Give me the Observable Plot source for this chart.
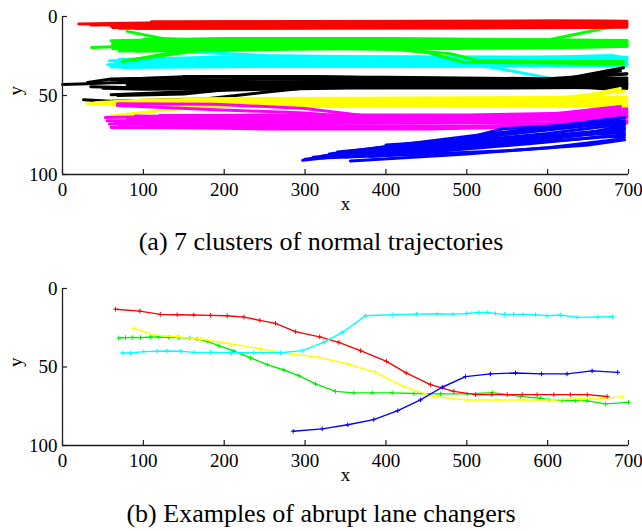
<!DOCTYPE html>
<html><head><meta charset="utf-8">
<script src="https://cdn.jsdelivr.net/npm/d3@7"></script>
<script src="https://cdn.jsdelivr.net/npm/@observablehq/plot@0.6"></script>
<style>
body{margin:0;background:#fff;}
#wrap{position:relative;width:642px;height:531px;font-family:"Liberation Serif","Times New Roman",serif;}
.cap{position:absolute;left:0;width:642px;text-align:center;font-size:26px;line-height:26px;color:#000;white-space:nowrap;}
#p1{position:absolute;left:0;top:0;}
#p2{position:absolute;left:0;top:270px;}
</style></head><body>
<div id="wrap">
  <div id="p1"></div>
  <div class="cap" style="top:229px">(a) 7 clusters of normal trajectories</div>
  <div id="p2"></div>
  <div class="cap" style="top:501px">(b) Examples of abrupt lane changers</div>
</div>
<script>
// ---------- tick labels ----------
const xTicks = [0, 100, 200, 300, 400, 500, 600, 700];
const yTicks = [0, 50, 100];

// ---------- (a) clusters: each trajectory is [x0,y0, x1,y1, ...] ----------
const redTraj = [
  [20,4.8, 62,4.4, 200,3.4, 400,3.2, 600,2.9, 698,3.2],
  [35,5.4, 70,5.2, 200,4.4, 400,4.1, 600,3.8, 698,4.0],
  [60,6.2, 200,5.4, 400,5.0, 600,4.7, 698,4.8],
  [62,7.0, 200,6.3, 400,5.9, 600,5.6, 698,5.4],
  [70,7.5, 200,7.3, 400,6.8, 600,6.5, 698,6.2],
  [110,3.4, 300,3.2, 500,3.0, 650,2.8, 698,3.0],
  [90,7.4, 300,7.5, 500,7.3, 650,7.0, 698,6.8],
  [140,4.0, 350,4.6, 550,4.2, 698,4.4]
];
const greenTraj = [
  [36,19.6, 62,19.2, 200,18.0, 400,17.0, 600,16.6, 698,16.8],
  [60,15.3, 200,14.0, 400,14.0, 600,14.8, 698,15.4],
  [62,16.5, 200,15.2, 400,15.0, 600,15.6, 698,16.0],
  [62,17.8, 200,16.5, 400,16.0, 600,16.2, 698,16.6],
  [62,20.4, 200,19.2, 400,18.2, 600,17.6, 698,17.6],
  [70,21.8, 200,20.6, 400,19.6, 600,18.8, 698,18.6],
  [90,22.0, 250,20.6, 450,20.4, 650,19.4, 698,18.9],
  [100,14.6, 300,14.2, 500,14.6, 698,15.2],
  [80,18.6, 300,17.4, 500,17.6, 698,17.2],
  [75,21.0, 250,19.8, 450,19.0, 650,18.2, 698,18.0],
  [80,9.4, 125,14.0, 200,15.6, 400,15.4, 600,15.6, 698,15.8],
  [74,28.5, 156,21.0, 300,19.5, 500,18.5, 698,18.0],
  [78,28.0, 170,21.6, 350,20.0, 500,19.0, 698,18.4],
  [62,18.5, 300,18.5, 405,20.3, 453,23.0, 496,29.0, 600,29.5, 694,30.0],
  [100,19.0, 300,19.5, 420,21.0, 480,23.6, 513,27.8, 600,28.3, 694,28.5],
  [62,16.0, 300,16.5, 500,16.0, 603,14.6, 698,4.6]
];
const cyanTraj = [
  [56,30.5, 100,30.0, 200,29.0, 400,28.5, 600,28.6, 698,28.4],
  [58,28.0, 120,27.5, 200,26.5, 400,26.0, 600,26.0, 698,26.2],
  [60,32.0, 150,31.6, 300,31.0, 500,30.8, 698,30.6],
  [70,27.2, 200,25.6, 400,25.5, 600,25.6, 698,25.8],
  [65,29.2, 250,28.0, 450,27.2, 650,27.4, 698,27.4],
  [75,32.2, 250,31.6, 450,31.6, 650,31.4, 698,31.4],
  [100,30.0, 300,30.0, 500,29.6, 698,29.6],
  [120,27.0, 300,27.0, 500,27.0, 680,24.7, 698,26.5],
  [117,21.5, 253,24.7, 400,25.8, 600,26.4],
  [100,29.0, 300,28.6, 490,30.0, 529,32.0, 603,39.0]
];
const blackTraj = [
  [0,43.0, 31,42.6, 60,42.0, 200,41.5, 400,41.0, 600,41.0, 698,41.0],
  [31,41.8, 60,39.6, 200,38.3, 400,38.4, 600,39.4, 698,39.0],
  [35,44.4, 80,45.0, 200,44.6, 400,43.6, 600,43.8, 698,43.4],
  [50,45.4, 100,46.0, 200,45.8, 400,44.8, 600,44.6, 698,45.6],
  [60,40.0, 150,38.2, 300,38.2, 500,39.4, 620,39.6, 694,32.4],
  [70,41.0, 250,39.6, 450,39.8, 620,40.2, 690,34.5],
  [80,43.2, 300,42.6, 500,42.4, 650,42.2, 698,43.2],
  [90,45.6, 300,44.8, 500,44.6, 650,44.8, 690,46.8],
  [150,38.0, 300,38.0, 450,39.4, 600,39.4, 698,36.2],
  [100,42.8, 250,43.4, 450,43.0, 620,42.6, 698,42.0],
  [26,52.7, 59,53.6, 179,52.0, 250,48.0, 331,43.7, 500,43.0, 698,42.5],
  [68,50.0, 150,49.0, 313,40.5, 500,40.5, 698,40.0],
  [60,49.5, 200,46.6, 350,45.2, 550,45.2, 698,44.8],
  [120,41.4, 400,41.4, 600,41.2, 660,37.6, 698,36.4]
];
const yellowTraj = [
  [31,55.2, 60,55.4, 150,55.0, 300,54.6, 500,54.2, 698,54.2],
  [40,54.6, 100,52.8, 300,52.0, 500,51.6, 698,51.0],
  [90,56.6, 300,56.8, 500,56.8, 698,56.6],
  [80,54.0, 250,53.4, 450,53.2, 698,52.6],
  [100,55.8, 300,55.8, 500,55.6, 698,55.6],
  [150,52.0, 350,51.8, 550,51.6, 698,51.8],
  [60,56.0, 250,56.8, 450,56.4, 698,56.8],
  [120,53.6, 350,53.2, 550,53.0, 698,53.6],
  [60,63.0, 130,59.0, 200,56.6, 400,55.2, 698,54.8],
  [300,53.0, 500,53.2, 637,51.0, 690,45.6],
  [400,54.0, 600,52.2, 660,49.0, 695,47.2]
];
const magentaTraj = [
  [53,64.0, 100,63.4, 300,63.0, 500,63.0, 600,62.0, 690,57.0],
  [55,66.0, 150,65.6, 350,65.4, 550,65.2, 650,63.4, 698,60.4],
  [58,68.0, 200,67.6, 400,67.6, 600,67.4, 698,64.0],
  [60,70.2, 200,70.4, 400,70.6, 600,69.8, 698,66.6],
  [80,65.0, 250,64.4, 450,64.4, 650,63.0, 698,62.0],
  [100,69.0, 300,69.0, 500,69.6, 698,67.4],
  [70,69.6, 250,71.2, 450,71.2, 650,69.0, 698,66.0],
  [120,62.6, 300,62.4, 500,62.4, 640,61.0, 698,58.4],
  [65,67.0, 250,66.8, 450,66.6, 650,65.0, 698,63.0],
  [90,63.0, 300,64.0, 500,64.0, 650,62.0, 698,60.0],
  [68,55.2, 189,55.6, 300,58.2, 371,62.6, 500,64.0, 698,63.0],
  [68,56.4, 189,59.0, 300,61.0, 371,64.0, 600,65.0, 698,62.8],
  [150,66.8, 400,66.2, 600,64.0, 690,58.8]
];
const blueTraj = [
  [297,91.0, 350,88.0, 400,86.0, 500,82.0, 600,77.0, 695,72.0],
  [300,90.4, 400,84.0, 500,79.0, 600,74.0, 695,68.0],
  [320,88.4, 400,82.4, 500,77.6, 600,71.6, 695,66.0],
  [330,87.0, 420,81.0, 500,76.0, 600,70.0, 690,64.0],
  [340,87.6, 450,84.0, 550,81.0, 650,77.0, 695,75.0],
  [320,89.6, 450,87.0, 550,85.0, 650,81.4, 695,78.0],
  [356,91.4, 500,87.0, 600,83.0, 694,77.4],
  [400,81.4, 488,78.5, 545,71.0, 650,68.0, 695,64.0],
  [340,85.8, 450,80.4, 550,74.4, 650,69.2, 695,66.6],
  [350,89.0, 450,85.2, 560,80.0, 660,74.0, 695,70.4],
  [310,89.0, 400,85.0, 500,80.6, 600,75.8, 695,73.6],
  [330,88.6, 430,84.6, 530,80.0, 630,74.6, 695,71.0],
  [360,87.0, 460,82.6, 560,77.6, 660,72.6, 695,69.0],
  [380,88.6, 480,84.6, 580,80.4, 670,76.0, 695,76.4]
];
// drawing order and colours
const clusterNames  = ["cyan", "green", "red", "black", "yellow", "magenta", "blue"];
const clusterColors = ["#00ffff", "#00ff00", "#ff0000", "#000000", "#ffff00", "#ff00ff", "#0000ff"];
const clusterTrajs  = [cyanTraj, greenTraj, redTraj, blackTraj, yellowTraj, magentaTraj, blueTraj];

// ---------- (b) abrupt lane changers ----------
const greenX = [69.6, 77.9, 86.2, 96.5, 108.8, 119.1, 131.5, 143.8, 157.4, 166.6, 178.9, 193.2, 211.8, 232.5, 253.2, 273.7, 292.3, 312.9, 337.6, 360.2, 383, 407.7, 434.5, 467.5, 500.5, 531.4, 566.4, 591.2, 601.4, 617.9, 634.4, 649, 671.5, 700];
const greenY = [31.5, 31.3, 31.2, 31.3, 30.9, 30.9, 31.2, 31.3, 31.5, 32.2, 33.7, 36.4, 39.8, 44.2, 48.5, 51.9, 55.5, 60.8, 65.5, 66.5, 66.5, 66.5, 66.9, 67.1, 67.1, 66.3, 68.7, 69.9, 70.8, 71.4, 71.4, 71.6, 73.5, 72.5];
const yellowX = [88.2, 112.9, 141.8, 170.7, 205.7, 244.9, 284, 317, 352.8, 387, 422, 459, 500.5, 537.6, 574.7, 607.6, 640.6, 665.4, 692.2];
const yellowY = [25.4, 29.6, 30.7, 32.2, 35.0, 38.5, 41.7, 43.9, 48.1, 53.4, 62.5, 68.8, 71.0, 71.0, 71.0, 71.0, 70.1, 70.1, 69.0];
const redX = [65.5, 95.6, 121, 141.8, 162.4, 183, 203.7, 224.3, 244, 263.4, 288, 318, 341.7, 368.5, 400.7, 425, 455, 484, 510.8, 531, 550, 568.5, 587, 607.6, 628, 649, 673.6];
const redY = [13.2, 14.4, 16.5, 16.7, 16.9, 17.1, 17.4, 18.2, 20.3, 22.2, 27.5, 30.8, 34.3, 39.6, 46.4, 53.8, 61.2, 65.5, 67.6, 67.6, 67.6, 67.6, 67.6, 67.6, 67.6, 67.6, 68.8];
const cyanX = [73.8, 84, 100.6, 117, 129.4, 146, 162.4, 183, 207.8, 236.6, 269.6, 296.4, 323, 345.9, 374.7, 407.7, 437.8, 463.4, 483.2, 499.6, 514.9, 525.2, 535.5, 546.6, 558, 569.7, 585, 599.4, 616, 636.5, 662, 680];
const cyanY = [41.1, 41.1, 40.2, 40.0, 39.8, 40.0, 40.7, 40.7, 40.9, 40.9, 40.9, 39.6, 34.3, 28.0, 17.4, 16.7, 16.3, 16.1, 16.3, 15.9, 15.3, 15.3, 15.9, 16.5, 16.5, 16.5, 16.7, 17.4, 16.9, 18.4, 18.2, 18.0];
const blueX = [285.3, 321.2, 352.8, 385, 414.7, 442.7, 469.6, 498.4, 529.3, 560.2, 592.4, 624, 655, 686.7];
const blueY = [90.9, 89.4, 86.8, 83.5, 77.8, 71.0, 62.9, 56.1, 54.4, 53.8, 54.4, 54.4, 52.5, 53.4];
const exampleNames  = ["green", "yellow", "red", "cyan", "blue"];
const exampleColors = ["#00ee00", "#ffff00", "#ff0000", "#00ffff", "#0000ff"];
const exampleX = [greenX, yellowX, redX, cyanX, blueX];
const exampleY = [greenY, yellowY, redY, cyanY, blueY];

// ---------- build tables ----------
const trajRows = clusterTrajs.map((trajs, c) =>
  trajs.flatMap((t, i) => {
    const pts = [];
    for (let k = 0; k < t.length; k += 2) pts.push({cluster: clusterNames[c], id: clusterNames[c] + i, x: t[k], y: t[k + 1]});
    return pts;
  })
);
const exampleRows = exampleNames.map((n, s) => exampleX[s].map((x, i) => ({series: n, x, y: exampleY[s][i]})));

// ---------- common frame ----------
const W = 642, ML = 62, MR = 14, MB = 46;
const axisColor = "#1e1e1e";
function frameMarks(plotH) {
  const plotW = W - ML - MR;
  return [
    Plot.ruleX([0], {stroke: axisColor, strokeWidth: 1.3}),
    Plot.ruleY([100], {stroke: axisColor, strokeWidth: 1.3}),
    Plot.tickX(xTicks, {x: d => d, insetTop: plotH - 5, stroke: axisColor, strokeWidth: 1.2}),
    Plot.tickY(yTicks, {y: d => d, insetRight: plotW - 5, stroke: axisColor, strokeWidth: 1.2}),
    Plot.axisX(xTicks, {tickSize: 0, tickPadding: 8, label: null, tickFormat: d => String(d)}),
    Plot.axisY(yTicks, {tickSize: 0, tickPadding: 5, label: null, tickFormat: d => String(d)}),
    Plot.text(["x"], {frameAnchor: "bottom", dy: 35, text: d => d}),
    Plot.text(["y"], {frameAnchor: "left", dx: -47, rotate: -90, text: d => d})
  ];
}
const style = {fontFamily: "'Liberation Serif', 'Times New Roman', serif", fontSize: "19px", color: "#000", background: "transparent", overflow: "visible"};

// ---------- (a) ----------
const H1 = 220, MT1 = 16;
const plotA = Plot.plot({
  width: W, height: H1, marginTop: MT1, marginBottom: MB, marginLeft: ML, marginRight: MR,
  x: {domain: [0, 700]}, y: {domain: [0, 100], reverse: true},
  style,
  marks: [
    ...trajRows.map((rows, c) => Plot.line(rows, {x: "x", y: "y", z: "id", stroke: clusterColors[c], strokeWidth: 3, strokeLinejoin: "round"})),
    ...frameMarks(H1 - MT1 - MB)
  ]
});
document.getElementById("p1").appendChild(plotA);

// ---------- (b) ----------
const H2 = 221, MT2 = 18;
const plotB = Plot.plot({
  width: W, height: H2, marginTop: MT2, marginBottom: MB, marginLeft: ML, marginRight: MR,
  x: {domain: [0, 700]}, y: {domain: [0, 100], reverse: true},
  style,
  marks: [
    ...exampleRows.flatMap((rows, s) => [
      Plot.line(rows, {x: "x", y: "y", stroke: exampleColors[s], strokeWidth: 1.4}),
      Plot.dot(rows, {x: "x", y: "y", symbol: "plus", r: 1.6, stroke: exampleColors[s], strokeWidth: 1})
    ]),
    ...frameMarks(H2 - MT2 - MB)
  ]
});
document.getElementById("p2").appendChild(plotB);
</script>
</body></html>
